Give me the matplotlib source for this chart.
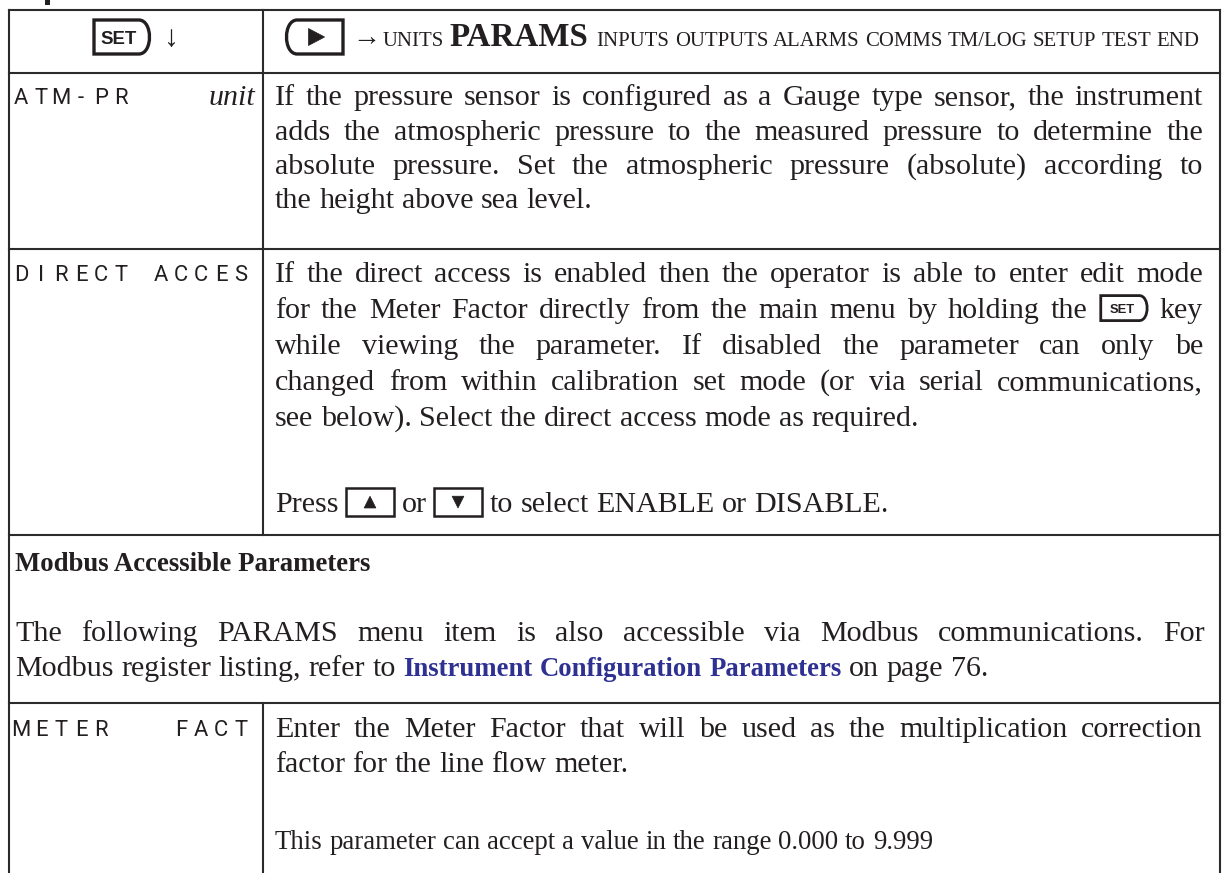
import matplotlib
matplotlib.use("Agg")
import matplotlib.pyplot as plt
from matplotlib.font_manager import FontProperties
from matplotlib.path import Path
from matplotlib.patches import PathPatch, Rectangle, Polygon

# ---- page content ----------------------------------------------------------
header_menu = ["UNITS", "PARAMS", "INPUTS", "OUTPUTS", "ALARMS", "COMMS",
               "TM/LOG", "SETUP", "TEST", "END"]
header_active = "PARAMS"

# display labels, one character per cell of the 12-cell display
atm_label = "ATM-PR"
direct_label = "DIRECT ACCES"
meter_label = "METER   FACT"
atm_unit = "unit"

# (text, justified)
atm_text = [
    ("If the pressure sensor is configured as a Gauge type sensor, the instrument", True),
    ("adds the atmospheric pressure to the measured pressure to determine the", True),
    ("absolute pressure. Set the atmospheric pressure (absolute) according to", True),
    ("the height above sea level.", False),
]
direct_text = [
    ("If the direct access is enabled then the operator is able to enter edit mode", True),
    ("for the Meter Factor directly from the main menu by holding the [SET] key", True),
    ("while viewing the parameter. If disabled the parameter can only be", True),
    ("changed from within calibration set mode (or via serial communications,", True),
    ("see below). Select the direct access mode as required.", False),
    ("Press [UP] or [DOWN] to select ENABLE or DISABLE.", False),
]
modbus_heading = "Modbus Accessible Parameters"
modbus_text = [
    ("The following PARAMS menu item is also accessible via Modbus communications. For", True),
    ("Modbus register listing, refer to *Instrument *Configuration *Parameters on page 76.", False),
]
meter_text = [
    ("Enter the Meter Factor that will be used as the multiplication correction", True),
    ("factor for the line flow meter.", False),
]
meter_note = "This parameter can accept a value in the range 0.000 to 9.999"

# ---- layout (pixels) ---------------------------------------------------------
W, H, DPI = 1223, 873, 100
LEFT, RIGHT, SPLIT = 9, 1220, 263
HLINES = [10, 73, 249, 535, 703]
SPLIT_SPANS = [(10, 535), (703, H + 5)]
BODY_PX = 30
SMALL_PX = 26.7
INK = "#231f20"
LINK = "#2e3192"
LINE_C = "#2b2b2b"

atm_base = [105, 140, 174, 208]
direct_base = [282, 318, 354, 390, 426, 512]
modbus_base = [641, 676]
meter_base = [737, 772]

serif = ["Liberation Serif", "DejaVu Serif"]
sans = ["Liberation Sans", "DejaVu Sans"]


def pt(px):
    return px * 72.0 / DPI


body = FontProperties(family=serif, size=pt(BODY_PX))
body_small = FontProperties(family=serif, size=pt(SMALL_PX))
body_bold = FontProperties(family=serif, weight="bold", size=pt(SMALL_PX))
body_ital = FontProperties(family=serif, style="italic", size=pt(BODY_PX))
menu_small = FontProperties(family=serif, size=pt(20.8))
menu_big = FontProperties(family=serif, weight="bold", size=pt(33))
lcd = FontProperties(family=["Roboto", "DejaVu Sans"], size=pt(22))

fig = plt.figure(figsize=(W / DPI, H / DPI), dpi=DPI)
ax = fig.add_axes([0, 0, 1, 1])
ax.set_xlim(0, W)
ax.set_ylim(H, 0)
ax.axis("off")
renderer = fig.canvas.get_renderer()


def measure(s, prop):
    w, h, d = renderer.get_text_width_height_descent(s, prop, ismath=False)
    return w


def key_set(x0, yc, w, h, lw=2.4, fs=None):
    top, bot = yc - h / 2, yc + h / 2
    xr = x0 + w - h * 0.3
    k = h * 0.42
    verts = [(x0, top), (xr, top), (xr + k, top), (xr + k, bot), (xr, bot), (x0, bot), (x0, top)]
    codes = [Path.MOVETO, Path.LINETO, Path.CURVE4, Path.CURVE4, Path.CURVE4, Path.LINETO, Path.CLOSEPOLY]
    ax.add_patch(PathPatch(Path(verts, codes), fill=False, lw=lw, ec=INK, joinstyle="miter"))
    ax.text(x0 + (w - h * 0.15) / 2, yc, "SET", ha="center", va="center_baseline",
            fontproperties=FontProperties(family=sans, weight="bold", size=pt(fs or h * 0.55)), color=INK)


def key_play(x0, yc, w, h, lw=2.4):
    top, bot = yc - h / 2, yc + h / 2
    xl = x0 + h * 0.3
    k = h * 0.42
    verts = [(x0 + w, top), (xl, top), (xl - k, top), (xl - k, bot), (xl, bot), (x0 + w, bot), (x0 + w, top)]
    codes = [Path.MOVETO, Path.LINETO, Path.CURVE4, Path.CURVE4, Path.CURVE4, Path.LINETO, Path.CLOSEPOLY]
    ax.add_patch(PathPatch(Path(verts, codes), fill=False, lw=lw, ec=INK, joinstyle="miter"))
    cx = x0 + w * 0.52
    th = h * 0.5
    ax.add_patch(Polygon([(cx - th * 0.45, yc - th / 2), (cx - th * 0.45, yc + th / 2), (cx + th * 0.5, yc)],
                         closed=True, fc=INK, ec=INK, lw=0.5))


def key_arrow(x0, yc, w, h, up=True):
    ax.add_patch(Rectangle((x0, yc - h / 2), w, h, fill=False, lw=1.8, ec=INK))
    cx, th, tw = x0 + w / 2, h * 0.42, h * 0.42
    if up:
        pts = [(cx - tw / 2, yc + th / 2), (cx + tw / 2, yc + th / 2), (cx, yc - th / 2)]
    else:
        pts = [(cx - tw / 2, yc - th / 2), (cx + tw / 2, yc - th / 2), (cx, yc + th / 2)]
    ax.add_patch(Polygon(pts, closed=True, fc=INK, ec=INK, lw=0.5))


ICONS = {"[SET]": 50, "[UP]": 48, "[DOWN]": 48}


def draw_line(text, x0, x1, base, justify, prop=body):
    words = text.split()
    toks = []
    for wd in words:
        if wd in ICONS:
            toks.append(("icon", wd, ICONS[wd]))
        elif wd.startswith("*"):
            toks.append(("link", wd[1:], measure(wd[1:], body_bold)))
        else:
            toks.append(("text", wd, measure(wd, prop)))
    total = sum(t[2] for t in toks)
    if justify and len(toks) > 1:
        gap = (x1 - x0 - total) / (len(toks) - 1)
    else:
        gap = measure("a a", prop) - 2 * measure("a", prop)
    x = x0
    yc = base - BODY_PX * 0.33
    for kind, s, w in toks:
        if kind == "icon":
            if s == "[SET]":
                key_set(x + 2, yc, w - 4, 25, lw=2.0, fs=13)
            else:
                key_arrow(x, yc, w, 28, up=(s == "[UP]"))
        elif kind == "link":
            ax.text(x, base, s, fontproperties=body_bold, color=LINK, ha="left", va="baseline")
        else:
            ax.text(x, base, s, fontproperties=prop, color=INK, ha="left", va="baseline")
        x += w + gap


def draw_block(lines, x0, x1, bases):
    for (txt, just), b in zip(lines, bases):
        draw_line(txt, x0, x1, b, just)


def draw_lcd(label, x0, base, pitch=20.0):
    for i, ch in enumerate(label):
        if ch != " ":
            ax.text(x0 + i * pitch + 6, base, ch, fontproperties=lcd, color=INK,
                    ha="center", va="baseline")


# ---- table rules ------------------------------------------------------------
for y in HLINES:
    ax.plot([LEFT, RIGHT], [y, y], color=LINE_C, lw=1.5, solid_capstyle="projecting")
for x in (LEFT, RIGHT):
    ax.plot([x, x], [HLINES[0], H + 5], color=LINE_C, lw=1.5)
for y0, y1 in SPLIT_SPANS:
    ax.plot([SPLIT, SPLIT], [y0, y1], color=LINE_C, lw=1.5)

# descender of the page heading, cut off above the table
ax.add_patch(Rectangle((45, 0), 5, 4.5, fc=INK, ec="none"))

# ---- header row -------------------------------------------------------------
hy = 37
key_set(94, hy, 55, 34)
ax.text(171, hy + 2, "\u2193", fontproperties=FontProperties(family=serif, size=pt(30)),
        color=INK, ha="center", va="center")
key_play(287, hy, 56, 34)
ax.text(366, hy + 2, "\u2192", fontproperties=FontProperties(family=serif, size=pt(28)),
        color=INK, ha="center", va="center")
hx, hbase = 383, 46
for item in header_menu:
    prop = menu_big if item == header_active else menu_small
    ax.text(hx, hbase, item, fontproperties=prop, color=INK, ha="left", va="baseline")
    hx += measure(item, prop) + measure("a a", menu_small) - 2 * measure("a", menu_small)
    if item == header_active:
        hx += 3

# ---- ATM-PR row ---------------------------------------------------------------
draw_lcd(atm_label, 15, atm_base[0] - 1)
ax.text(255, atm_base[0], atm_unit, fontproperties=body_ital, color=INK, ha="right", va="baseline")
draw_block(atm_text, 275, 1203, atm_base)

# ---- DIRECT ACCES row ---------------------------------------------------------
draw_lcd(direct_label, 15, direct_base[0] - 1)
draw_block(direct_text, 275, 1203, direct_base)

# ---- Modbus section -----------------------------------------------------------
ax.text(15, 571, modbus_heading, fontproperties=body_bold, color=INK, ha="left", va="baseline")
draw_block(modbus_text, 15, 1205, modbus_base)

# ---- METER FACT row -----------------------------------------------------------
draw_lcd(meter_label, 15, meter_base[0] - 1)
draw_block(meter_text, 275, 1203, meter_base)
draw_line(meter_note, 275, 1203, 849, False, prop=body_small)

fig.savefig("out.png", dpi=DPI)
